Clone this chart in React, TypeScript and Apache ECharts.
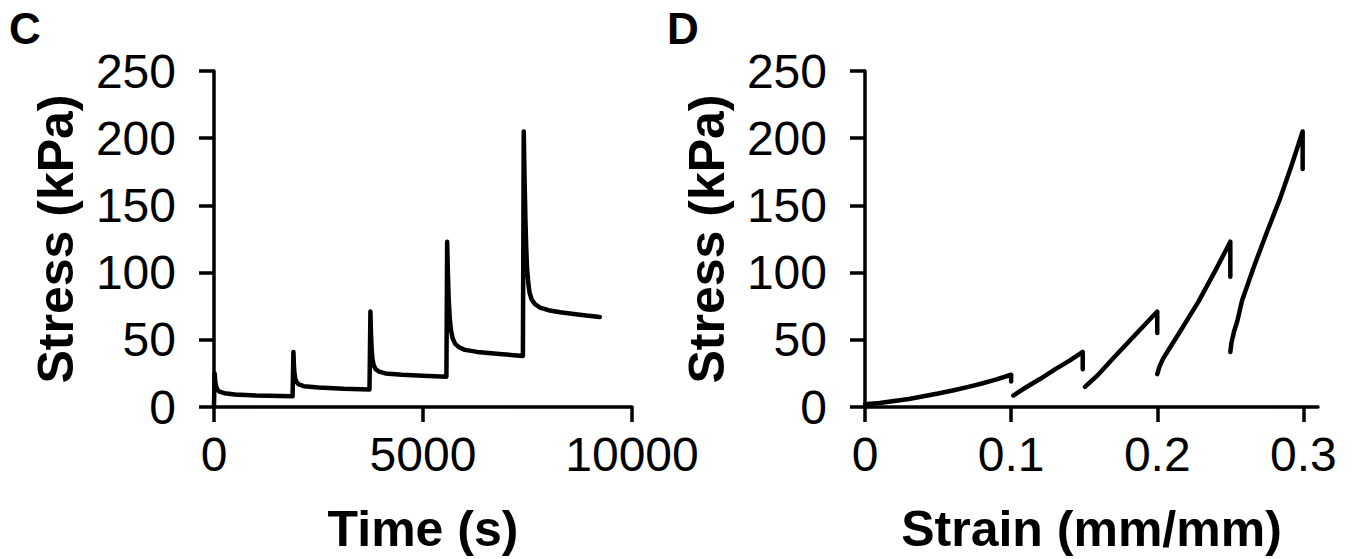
import React, { useEffect, useRef } from "react";
import * as echarts from "echarts";

// Panel C: stress relaxation over time
const timeC = [
  0, 15, 30, 50, 80, 130, 250, 500, 1000, 1880,
  1900, 1912, 1925, 1945, 1975, 2030, 2150, 2500, 3100, 3720,
  3742, 3755, 3770, 3790, 3820, 3870, 3950, 4100, 4500, 5000, 5560,
  5578, 5595, 5615, 5640, 5670, 5710, 5770, 5860, 6000, 6300, 6900, 7390,
  7410, 7430, 7450, 7470, 7490, 7520, 7550, 7600, 7680, 7800, 8000, 8280, 8800, 9230,
];
const stressC = [
  1, 25, 19, 15.5, 13, 11.5, 10.3, 9.3, 8.6, 8,
  41, 31, 25, 21, 18.5, 16.8, 15.5, 14.5, 13.5, 13,
  71, 55, 44, 36, 31, 28, 26.3, 25, 24, 23.2, 22.5,
  123, 100, 80, 66, 57, 51, 47, 44.5, 42.5, 41, 39.3, 38,
  205, 170, 140, 118, 103, 92, 85, 80, 76.5, 74, 72, 70.5, 68.5, 67,
];

// Panel D: stress vs strain, five loading steps
const strainD1 = [0, 0.01, 0.02, 0.03, 0.04, 0.05, 0.06, 0.07, 0.08, 0.09, 0.1, 0.1];
const stressD1 = [2, 3, 4.5, 6, 8, 10, 12.3, 14.8, 17.5, 20.5, 24, 19];
const strainD2 = [0.1015, 0.105, 0.11, 0.12, 0.13, 0.14, 0.149, 0.149];
const stressD2 = [8.5, 11, 14.5, 21, 28, 34.5, 41, 28];
const strainD3 = [0.1505, 0.155, 0.16, 0.17, 0.18, 0.19, 0.2, 0.2];
const stressD3 = [15, 19.5, 24.5, 36.5, 48, 59.5, 71, 55];
const strainD4 = [0.2, 0.2015, 0.204, 0.208, 0.215, 0.228, 0.24, 0.25, 0.25];
const stressD4 = [24.5, 30, 36, 43, 55, 78, 102, 123, 97];
const strainD5 = [0.25, 0.2508, 0.2525, 0.2548, 0.258, 0.266, 0.275, 0.284, 0.292, 0.2995, 0.2995];
const stressD5 = [41, 48, 56, 64, 79, 104, 130, 155, 180, 205, 177];

const yTicks = [0, 50, 100, 150, 200, 250];
const xTicksC = [0, 5000, 10000];
const xTicksD = [0, 0.1, 0.2, 0.3];

const zip = (a: number[], b: number[]) => a.map((v, i) => [v, b[i]]);

const FONT = "'Liberation Sans', Arial, sans-serif";

export default function App() {
  const ref = useRef<HTMLDivElement>(null);
  useEffect(() => {
    if (!ref.current) return;
    const chart = echarts.init(ref.current, null, { renderer: "svg" });
    const axisLine = { show: true, lineStyle: { color: "#000", width: 3.5 } };
    const axisTick = { show: true, length: 15, lineStyle: { color: "#000", width: 3.5 } };
    const tickLabel = {
      color: "#000",
      fontSize: 48,
      fontFamily: FONT,
      formatter: (v: number) => String(v),
    };
    const nameStyle = { color: "#000", fontSize: 50, fontWeight: "bold", fontFamily: FONT };
    const yAxisBase = (gi: number) => ({
      gridIndex: gi,
      type: "value",
      min: yTicks[0],
      max: yTicks[yTicks.length - 1],
      interval: 50,
      axisLine,
      axisTick,
      splitLine: { show: false },
      axisLabel: { ...tickLabel, margin: 38 },
      name: "Stress (kPa)",
      nameLocation: "middle",
      nameGap: 133,
      nameTextStyle: nameStyle,
    });
    const lineStyle = { color: "#000", width: 4.5, cap: "round", join: "round" };
    const seg = (x: number[], y: number[], gi: number) => ({
      type: "line",
      xAxisIndex: gi,
      yAxisIndex: gi,
      data: zip(x, y),
      showSymbol: false,
      symbol: "none",
      lineStyle,
      silent: true,
    });
    chart.setOption({
      animation: false,
      backgroundColor: "#fff",
      grid: [
        { left: 214, top: 71, width: 418, height: 337 },
        { left: 865, top: 71, width: 453, height: 337 },
      ],
      xAxis: [
        {
          gridIndex: 0,
          type: "value",
          min: xTicksC[0],
          max: xTicksC[xTicksC.length - 1],
          interval: 5000,
          axisLine,
          axisTick,
          splitLine: { show: false },
          axisLabel: { ...tickLabel, margin: 23 },
          name: "Time (s)",
          nameLocation: "middle",
          nameGap: 97,
          nameTextStyle: nameStyle,
        },
        {
          gridIndex: 1,
          type: "value",
          min: 0,
          max: 0.31,
          axisLine,
          axisTick: { ...axisTick, customValues: xTicksD },
          splitLine: { show: false },
          axisLabel: { ...tickLabel, margin: 23, customValues: xTicksD },
          name: "Strain (mm/mm)",
          nameLocation: "middle",
          nameGap: 97,
          nameTextStyle: nameStyle,
        },
      ],
      yAxis: [yAxisBase(0), yAxisBase(1)],
      graphic: [
        { type: "text", left: 9, top: 6, style: { text: "C", fontSize: 44, fontWeight: "bold", fontFamily: FONT, fill: "#000" } },
        { type: "text", left: 667, top: 6, style: { text: "D", fontSize: 44, fontWeight: "bold", fontFamily: FONT, fill: "#000" } },
      ],
      series: [
        seg(timeC, stressC, 0),
        seg(strainD1, stressD1, 1),
        seg(strainD2, stressD2, 1),
        seg(strainD3, stressD3, 1),
        seg(strainD4, stressD4, 1),
        seg(strainD5, stressD5, 1),
      ],
    });
    return () => chart.dispose();
  }, []);
  return (
    <div
      ref={ref}
      style={{ position: "fixed", left: 0, top: 0, width: 1355, height: 559 }}
    />
  );
}
